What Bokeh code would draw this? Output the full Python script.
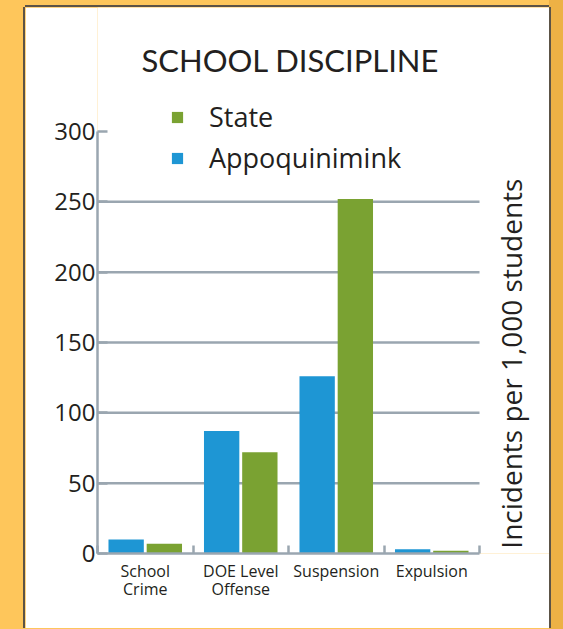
import math
from bokeh.plotting import figure
from bokeh.models import (Range1d, FixedTicker, Label, Legend, LegendItem, ColumnDataSource)
from bokeh.transform import dodge
from bokeh.embed import file_html
from bokeh.resources import INLINE

# ---- data ----
categories = ["School Crime", "DOE Level Offense", "Suspension", "Expulsion"]
category_labels = ["School\nCrime", "DOE Level\nOffense", "Suspension", "Expulsion"]
appoquinimink = [10, 87, 126, 3]
state = [7, 72, 252, 2]
y_ticks = [0, 50, 100, 150, 200, 250, 300]
grid_ticks = [50, 100, 150, 200, 250]

BLUE = "#1E96D4"
GREEN = "#7AA232"
GRAY = "#9AA6B0"
TEXT = "#231F20"
ORANGE = "#FEC65B"
ORANGE_DARK = "#EDB145"
BORDER = "#5C5346"
FONT = "Open Sans"

n = len(categories)
centers = [i + 0.5 for i in range(n)]
bounds = [float(i) for i in range(n + 1)]
src = ColumnDataSource(dict(x=centers, cat=categories, appo=appoquinimink, state=state))
grid_src = ColumnDataSource(dict(y=grid_ticks, x0=[0] * len(grid_ticks), x1=[n] * len(grid_ticks)))

# canvas = the white panel; frame spans from the y axis to the panel's right/top edge
W, H = 524, 621
FL, FB = 72, 75              # frame left / bottom borders (px)
PX_X = 95.5                  # px per category
PX_Y = 422 / 300             # px per unit
x_end = (W - FL) / PX_X
y_end = (H - FB) / PX_Y

p = figure(width=W, height=H, output_backend="svg", toolbar_location=None,
           x_range=Range1d(0, x_end), y_range=Range1d(0, y_end),
           min_border_left=FL, min_border_right=0, min_border_top=0, min_border_bottom=FB)
p.margin = (7, 0, 0, 25)
p.styles = {"box-shadow": "-2px 0 0 %s, 2px 0 0 %s, 0 -2px 0 %s" % (BORDER, BORDER, BORDER)}
p.border_fill_color = "white"
p.background_fill_color = "white"
p.outline_line_color = None

# grid lines limited to the category span
p.segment(x0="x0", x1="x1", y0="y", y1="y", source=grid_src, line_color=GRAY, line_width=2.5)

bw = 0.37
r_appo = p.vbar(x=dodge("x", -0.2), top="appo", width=bw, source=src,
                fill_color=BLUE, line_color=None)
r_state = p.vbar(x=dodge("x", 0.2), top="state", width=bw, source=src,
                 fill_color=GREEN, line_color=None)

# y axis
ya = p.yaxis[0]
ya.bounds = (0, 300)
ya.ticker = FixedTicker(ticks=y_ticks)
ya.axis_line_color = GRAY
ya.axis_line_width = 2.5
ya.major_tick_line_color = GRAY
ya.major_tick_line_width = 2.5
ya.major_tick_in = 10
ya.major_tick_out = 0
ya.minor_tick_line_color = None
ya.major_label_text_font = FONT
ya.major_label_text_font_size = "24px"
ya.major_label_text_color = TEXT
ya.major_label_standoff = 2

# x axis
xa = p.xaxis[0]
xa.bounds = (0, n)
xa.ticker = FixedTicker(ticks=centers, minor_ticks=bounds)
xa.major_label_overrides = {c: lab for c, lab in zip(centers, category_labels)}
xa.axis_line_color = GRAY
xa.axis_line_width = 2.5
xa.major_tick_line_color = None
xa.minor_tick_line_color = GRAY
xa.minor_tick_line_width = 2.5
xa.minor_tick_in = 8
xa.minor_tick_out = 0
xa.major_label_text_font = FONT
xa.major_label_text_font_size = "16px"
xa.major_label_text_line_height = 0.85
xa.major_label_text_color = TEXT
xa.major_label_standoff = 0

p.grid.visible = False

# title
p.add_layout(Label(x=2.02, y=351, text="SCHOOL DISCIPLINE", text_align="center",
                   text_baseline="middle", text_font="Lato", text_font_size="31px",
                   text_color=TEXT))
# right-side axis title
p.add_layout(Label(x=4.335, y=135, text="Incidents per 1,000 students", angle=math.pi / 2,
                   text_align="center", text_baseline="middle", text_font=FONT,
                   text_font_size="28px", text_color=TEXT))

legend = Legend(items=[LegendItem(label="State", renderers=[r_state]),
                       LegendItem(label="Appoquinimink", renderers=[r_appo])],
                location=(73, 377), orientation="vertical",
                glyph_width=14, glyph_height=14, label_standoff=25,
                label_text_font=FONT, label_text_font_size="27px", label_text_color=TEXT,
                label_height=28, spacing=4, padding=0, margin=0,
                border_line_color=None, background_fill_alpha=0)
p.add_layout(legend)

html = file_html(p, INLINE)
css = ("<style>html, body { background: linear-gradient(to right, %s 549px, %s 549px) !important; }</style>"
       % (ORANGE, ORANGE_DARK))
html = html.replace("</head>", css + "</head>", 1)
open("out.html", "w").write(html)
